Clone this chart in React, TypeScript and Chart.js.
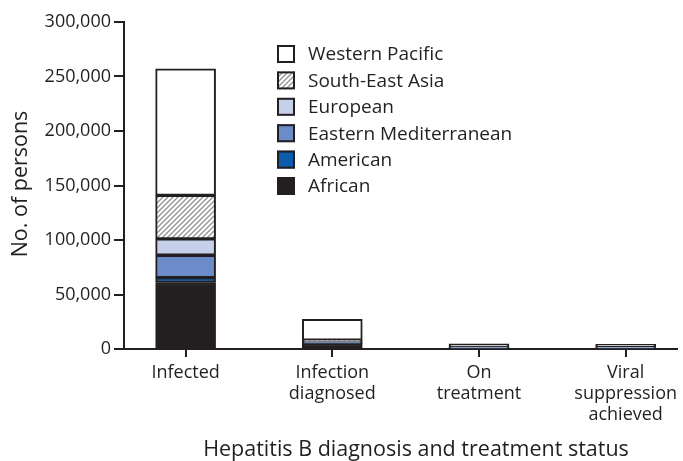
import React, { useEffect, useRef } from "react";
import { Chart, registerables } from "chart.js";

Chart.register(...registerables);

const categories: string[][] = [
  ["Infected"],
  ["Infection", "diagnosed"],
  ["On", "treatment"],
  ["Viral", "suppression", "achieved"],
];
const african = [61000, 5000, 500, 500];
const american = [4500, 500, 200, 200];
const easternMediterranean = [20500, 1000, 300, 300];
const european = [15000, 700, 500, 400];
const southEastAsia = [40000, 800, 500, 400];
const westernPacific = [116000, 19300, 2800, 2400];
const yTicks = [0, 50000, 100000, 150000, 200000, 250000, 300000];
const xTitle = "Hepatitis B diagnosis and treatment status";
const yTitle = "No. of persons";

const INK = "#231f20";
const FONT = "'Open Sans', sans-serif";

function makeHatch(): CanvasPattern | string {
  const c = document.createElement("canvas");
  c.width = 5;
  c.height = 5;
  const g = c.getContext("2d");
  if (!g) return "#bbb";
  g.fillStyle = "#ffffff";
  g.fillRect(0, 0, 5, 5);
  g.strokeStyle = "#959595";
  g.lineWidth = 1.4;
  g.beginPath();
  g.moveTo(-1, 6);
  g.lineTo(6, -1);
  g.moveTo(-1, 1);
  g.lineTo(1, -1);
  g.moveTo(4, 6);
  g.lineTo(6, 4);
  g.stroke();
  const p = g.createPattern(c, "repeat");
  return p || "#bbb";
}

export default function App() {
  const ref = useRef<HTMLCanvasElement | null>(null);
  useEffect(() => {
    if (!ref.current) return;
    const hatch = makeHatch();
    const mk = (label: string, data: number[], bg: any) => ({
      label,
      data: data.map((v, i) => ({ x: i, y: v })),
      backgroundColor: bg,
      borderColor: INK,
      borderWidth: 2,
      borderSkipped: false as const,
      barThickness: 60,
    });
    const datasets = [
      mk("African", african, INK),
      mk("American", american, "#0b5cad"),
      mk("Eastern Mediterranean", easternMediterranean, "#6b8cc8"),
      mk("European", european, "#c6d0ea"),
      mk("South-East Asia", southEastAsia, hatch),
      mk("Western Pacific", westernPacific, "#ffffff"),
    ];
    const overlayPlugin = {
      id: "overlay",
      afterDraw(chart: any) {
        const ctx = chart.ctx;
        const ds = chart.data.datasets;
        ctx.save();
        ctx.font = `19px ${FONT}`;
        ctx.textBaseline = "middle";
        ctx.textAlign = "left";
        const x0 = 277;
        const y0 = 54;
        const step = 26.4;
        for (let k = 0; k < ds.length; k++) {
          const d = ds[ds.length - 1 - k];
          const y = y0 + k * step;
          ctx.fillStyle = d.backgroundColor;
          ctx.fillRect(x0, y - 9, 18, 18);
          ctx.strokeStyle = INK;
          ctx.lineWidth = 2;
          ctx.strokeRect(x0 + 1, y - 8, 16, 16);
          ctx.fillStyle = INK;
          ctx.fillText(d.label, 308, y + 1);
        }
        ctx.fillStyle = INK;
        ctx.font = `21.5px ${FONT}`;
        ctx.textAlign = "center";
        ctx.textBaseline = "middle";
        ctx.fillText(xTitle, 416, 450);
        ctx.translate(21, 184);
        ctx.rotate(-Math.PI / 2);
        ctx.fillText(yTitle, 0, 0);
        ctx.restore();
      },
    };
    const chart = new Chart(ref.current, {
      type: "bar",
      data: { datasets: datasets as any },
      plugins: [overlayPlugin],
      options: {
        animation: false,
        responsive: false,
        layout: { padding: { top: 22, right: 0, left: 0, bottom: 0 } },
        plugins: { legend: { display: false }, tooltip: { enabled: false } },
        scales: {
          x: {
            type: "linear",
            stacked: true,
            offset: false,
            min: -0.42,
            max: 3.35,
            afterBuildTicks: (s: any) => {
              s.ticks = [0, 1, 2, 3].map((v) => ({ value: v }));
            },
            afterFit: (s: any) => {
              s.height = 112;
            },
            ticks: {
              color: INK,
              font: { family: FONT, size: 18, lineHeight: 1.15 },
              padding: 6,
              maxRotation: 0,
              autoSkip: false,
              callback: (v: any) => categories[Number(v)] ?? "",
            },
            grid: {
              offset: false,
              drawOnChartArea: false,
              drawTicks: true,
              tickLength: 8,
              color: INK,
              lineWidth: 2,
            },
            border: { color: INK, width: 2 },
          },
          y: {
            stacked: true,
            min: 0,
            max: 300000,
            afterBuildTicks: (s: any) => {
              s.ticks = yTicks.map((v) => ({ value: v }));
            },
            afterFit: (s: any) => {
              s.width = 124;
            },
            ticks: {
              color: INK,
              font: { family: FONT, size: 18 },
              padding: 3,
              callback: (v: any) => Number(v).toLocaleString("en-US"),
            },
            grid: {
              drawOnChartArea: false,
              drawTicks: true,
              tickLength: 10,
              color: INK,
              lineWidth: 2,
            },
            border: { color: INK, width: 2 },
          },
        },
      },
    });
    return () => chart.destroy();
  }, []);
  return (
    <div style={{ position: "fixed", left: 0, top: 0, width: 683, height: 461, background: "#fff" }}>
      <canvas ref={ref} width={683} height={461} style={{ width: 683, height: 461, display: "block" }} />
    </div>
  );
}
